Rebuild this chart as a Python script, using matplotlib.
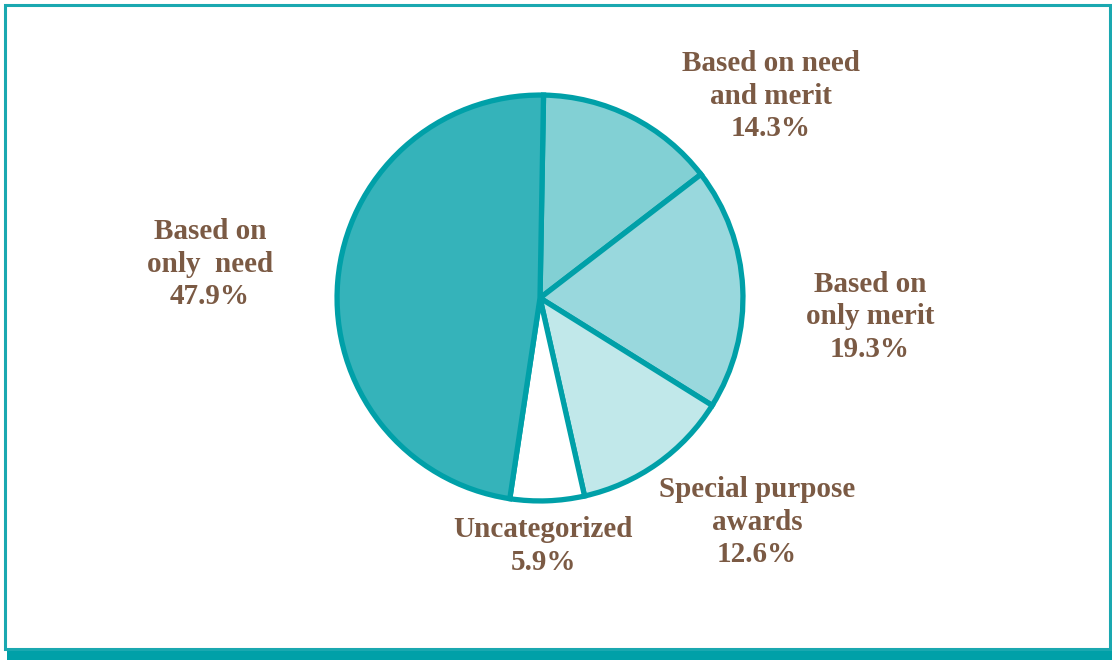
import matplotlib.pyplot as plt
from matplotlib.patches import Rectangle

# slices, clockwise from the top
labels = ['Based on need\nand merit', 'Based on\nonly merit', 'Special purpose\nawards',
          'Uncategorized', 'Based on\nonly  need']
shares = [14.3, 19.3, 12.6, 5.9, 47.9]
colors = ['#82D0D4', '#99D8DD', '#C1E8EA', '#FFFFFF', '#35B3BA']

W, H = 1112, 660
fig = plt.figure(figsize=(W / 100, H / 100), dpi=100)
fig.patch.set_facecolor('white')

# frame with a shadow bar under it
fig.patches.append(Rectangle((7 / W, 0), 1 - 7 / W, 11 / H, transform=fig.transFigure,
                             facecolor='#00A0A8', edgecolor='none', zorder=-3))
fig.patches.append(Rectangle((5 / W, 11 / H), (W - 7) / W, (H - 16) / H, transform=fig.transFigure,
                             facecolor='white', edgecolor='#1AA8B0', linewidth=2.2, zorder=-2))

cx, cy, r = 540, 298, 207
ax = fig.add_axes([(cx - r) / W, (H - cy - r) / H, 2 * r / W, 2 * r / H])
ax.patch.set_visible(False)
ax.pie(shares, colors=colors, startangle=89.0, counterclock=False,
       wedgeprops=dict(edgecolor='#00A0A8', linewidth=3.8))
ax.set_aspect('equal')
ax.set_xlim(-1.02, 1.02)
ax.set_ylim(-1.02, 1.02)
ax.axis('off')

# label centres in pixels
label_pos = [(771, 96), (870, 317), (757, 522), (543, 546), (210, 264)]
for lab, val, (x, y) in zip(labels, shares, label_pos):
    fig.text(x / W, 1 - y / H, f'{lab}\n{val}%', ha='center', va='center',
             fontsize=21, fontweight='bold', color='#7B5A44',
             family='Liberation Serif', linespacing=1.25)

fig.savefig('out.png', dpi=100)
